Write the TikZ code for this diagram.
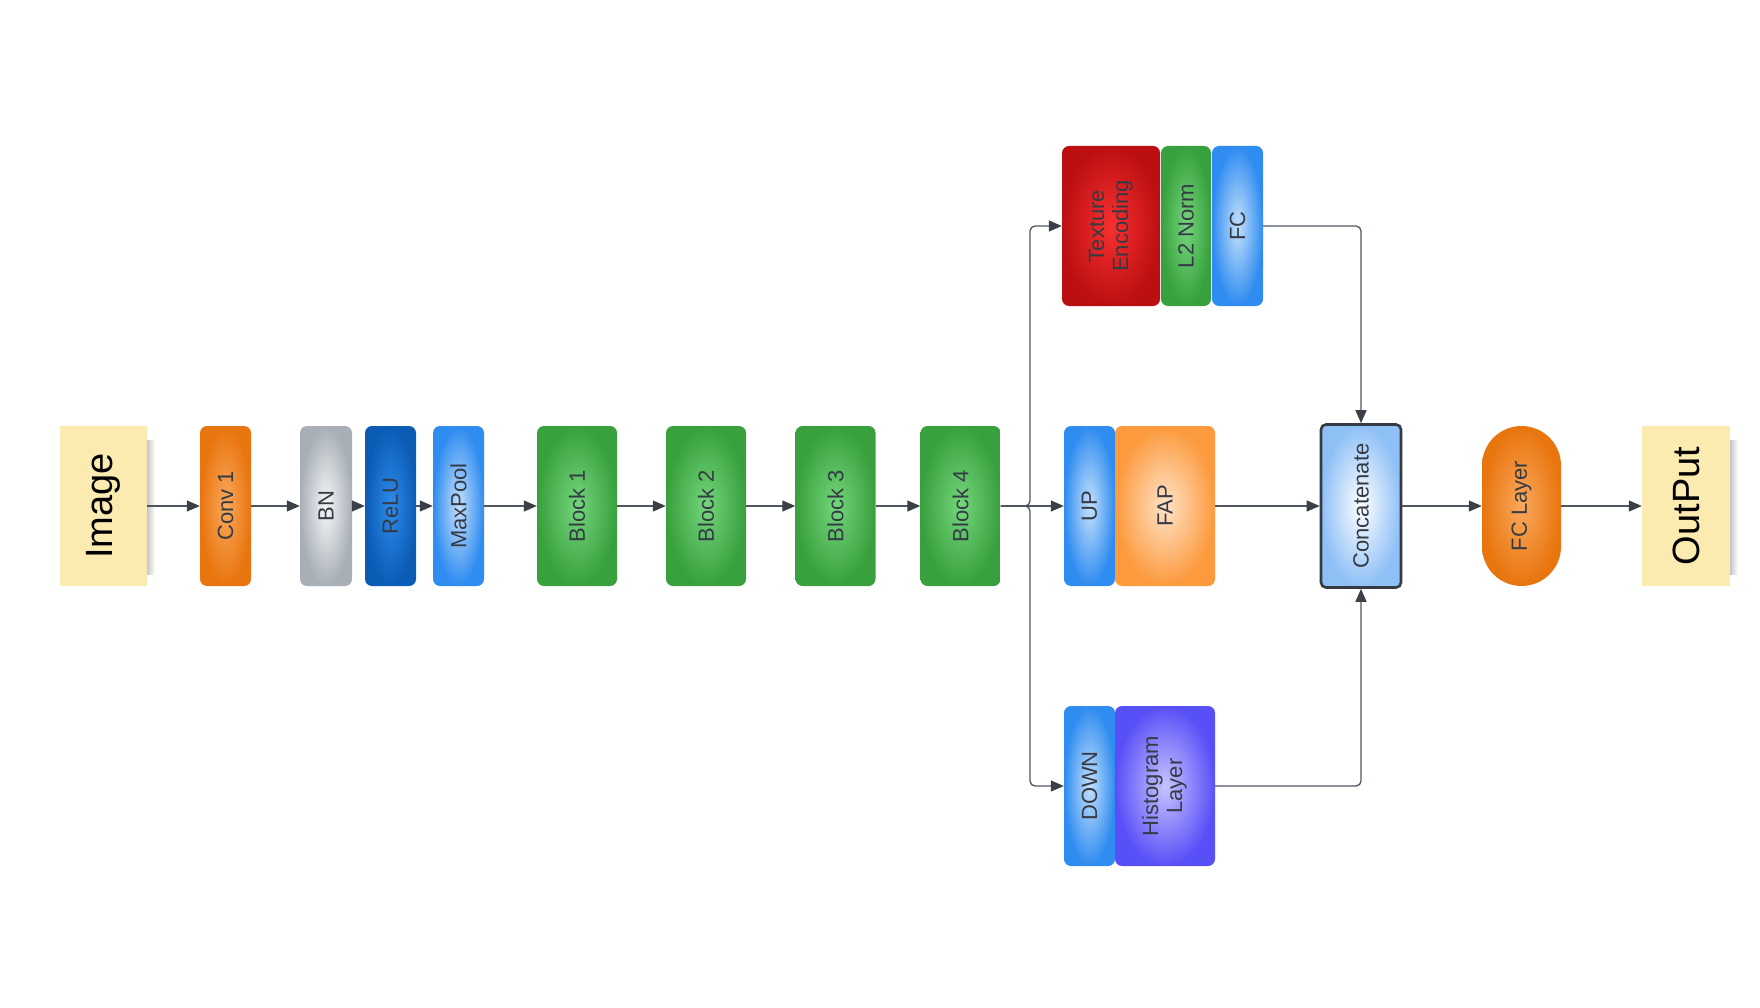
\documentclass[tikz,border=0pt]{standalone}
\usepackage{fontspec}
\setmainfont{Liberation Sans}
\usepackage{graphicx}
\usetikzlibrary{arrows.meta}

\definecolor{txt}{HTML}{353B45}
\definecolor{linec}{HTML}{50565E}
\definecolor{arrc}{HTML}{3B4048}
\definecolor{imgfill}{HTML}{FCEBB0}

\newcommand\rt[1]{\rotatebox{90}{#1}}
\newcommand\rtt[2]{\rotatebox{90}{\begin{tabular}{@{}c@{}}#1\\[-2pt]#2\end{tabular}}}

\tikzset{
  box/.style={rectangle, rounded corners=7pt, inner sep=0pt,
    font=\fontsize{22}{26}\selectfont, text=txt},
  wh/.style 2 args={minimum width=#1pt, minimum height=#2pt},
  corange/.style={inner color={rgb,255:red,251;green,168;blue,92}, outer color={rgb,255:red,232;green,117;blue,14}},
  cgray/.style={inner color={rgb,255:red,246;green,247;blue,248}, outer color={rgb,255:red,168;green,175;blue,183}},
  cdblue/.style={inner color={rgb,255:red,46;green,138;blue,234}, outer color={rgb,255:red,11;green,92;blue,181}},
  clblue/.style={inner color={rgb,255:red,196;green,224;blue,252}, outer color={rgb,255:red,47;green,140;blue,240}},
  cgreen/.style={inner color={rgb,255:red,116;green,214;blue,124}, outer color={rgb,255:red,56;green,160;blue,61}},
  cred/.style={inner color={rgb,255:red,248;green,48;blue,48}, outer color={rgb,255:red,188;green,15;blue,18}},
  cfap/.style={inner color={rgb,255:red,255;green,227;blue,200}, outer color={rgb,255:red,252;green,154;blue,61}},
  cpurple/.style={inner color={rgb,255:red,199;green,196;blue,255}, outer color={rgb,255:red,88;green,80;blue,247}},
  ccat/.style={inner color=white, outer color={rgb,255:red,142;green,192;blue,246}},
  term/.style={rectangle, inner sep=0pt, fill=imgfill, text=black,
    font=\fontsize{38}{44}\selectfont},
  softshadow/.style={left color=black!22, right color=white},
  conn/.style={draw=linec, line width=1.3pt,
    -{Triangle[length=13pt,width=11pt,fill=arrc,color=arrc]}},
}

\begin{document}
\begin{tikzpicture}[x=1pt,y=-1pt]
\fill[white] (0,0) rectangle (1760,1008);
\useasboundingbox (0,0) rectangle (1760,1008);

% soft shadows of the terminal boxes
\shade[softshadow] (147,440) rectangle (155,574);
\shade[softshadow] (1730,440) rectangle (1738,574);

% main row
\node[term, wh={87}{160}] (img) at (103.5,506) {\rt{Image}};
\node[box, corange, wh={51}{160}] (conv) at (225.5,506) {\rt{Conv 1}};
\node[box, cgray, wh={52}{160}] (bn) at (326,506) {\rt{BN}};
\node[box, cdblue, wh={51}{160}] (relu) at (390.5,506) {\rt{ReLU}};
\node[box, clblue, wh={51}{160}] (mp) at (458.5,506) {\rt{MaxPool}};
\node[box, cgreen, wh={80}{160}] (b1) at (577,506) {\rt{Block 1}};
\node[box, cgreen, wh={80}{160}] (b2) at (706,506) {\rt{Block 2}};
\node[box, cgreen, wh={80}{160}] (b3) at (835.5,506) {\rt{Block 3}};
\node[box, cgreen, wh={80}{160}] (b4) at (960.5,506) {\rt{Block 4}};

% top branch
\node[box, cred, wh={98}{160}] (tex) at (1111,226) {\rtt{Texture}{Encoding}};
\node[box, cgreen, wh={50}{160}] (l2) at (1186,226) {\rt{L2 Norm}};
\node[box, clblue, wh={51}{160}] (fc) at (1237.5,226) {\rt{FC}};

% middle branch
\node[box, clblue, wh={51}{160}] (up) at (1089.5,506) {\rt{UP}};
\node[box, cfap, wh={100}{160}] (fap) at (1165,506) {\rt{FAP}};

% bottom branch
\node[box, clblue, wh={51}{160}] (down) at (1089.5,786) {\rt{DOWN}};
\node[box, cpurple, wh={100}{160}] (hist) at (1165,786) {\rtt{Histogram}{Layer}};

% merge
\node[box, ccat, rounded corners=5pt, draw=txt, line width=2.6pt, wh={80}{163}] (cat) at (1361,506) {\rt{Concatenate}};
\node[box, corange, rounded corners=39.5pt, wh={79}{160}] (fcl) at (1521.5,506) {\rt{FC Layer}};
\node[term, wh={88}{160}] (out) at (1686,506) {\rt{OutPut}};

% connectors
\draw[conn] (img) -- (conv);
\draw[conn] (conv) -- (bn);
\draw[conn] (bn) -- (relu);
\draw[conn] (relu) -- (mp);
\draw[conn] (mp) -- (b1);
\draw[conn] (b1) -- (b2);
\draw[conn] (b2) -- (b3);
\draw[conn] (b3) -- (b4);

\coordinate (jn) at (1030,506);
\draw[conn] (b4) -- (up);
\draw[conn, rounded corners=5pt] (b4.east) -- (jn) |- (tex.west);
\draw[conn, rounded corners=5pt] (b4.east) -- (jn) |- (down.west);

\draw[conn] (fap) -- (cat);
\draw[conn, rounded corners=5pt] (fc.east) -| (cat.north);
\draw[conn, rounded corners=5pt] (hist.east) -| (cat.south);
\draw[conn] (cat) -- (fcl);
\draw[conn] (fcl) -- (out);
\end{tikzpicture}
\end{document}
